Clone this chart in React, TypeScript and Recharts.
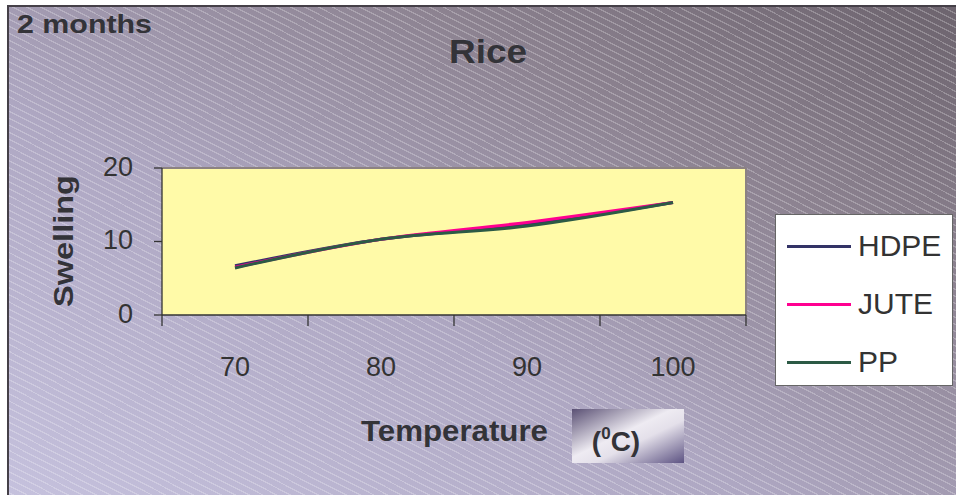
import { LineChart, Line, XAxis, YAxis, CartesianGrid, Legend } from 'recharts';

const temps = [70, 80, 90, 100];
const hdpe = [6.7, 10.3, 12.3, 15.3];
const jute = [6.5, 10.3, 12.6, 15.3];
const pp = [6.4, 10.3, 12.1, 15.3];
const xBounds = [65, 75, 85, 95, 105];
const yTicks = [0, 10, 20];

const series = [
  { key: 'HDPE', values: hdpe, color: '#333366' },
  { key: 'JUTE', values: jute, color: '#ff0090' },
  { key: 'PP', values: pp, color: '#2c5a45' },
];

const data = temps.map((t, i) => ({
  temp: t,
  HDPE: hdpe[i],
  JUTE: jute[i],
  PP: pp[i],
}));

const font = '"Liberation Sans", Arial, sans-serif';
const ink = '#333333';

function XTick(props: any) {
  const { x, y, payload } = props;
  if (temps.includes(payload.value)) {
    return (
      <text x={x} y={y + 61} textAnchor="middle" fill={ink} fontSize={27} fontFamily={font}>
        {payload.value}
      </text>
    );
  }
  return <line x1={x} y1={y} x2={x} y2={y + 11} stroke={ink} strokeWidth={1.3} />;
}

function LegendBox(props: any) {
  const items = props.payload || [];
  return (
    <div
      style={{
        background: '#fff',
        border: '1px solid #666',
        width: 178,
        height: 172,
        boxSizing: 'border-box',
        paddingTop: 2,
        fontFamily: font,
      }}
    >
      {items.map((p: any) => (
        <div key={p.value} style={{ display: 'flex', alignItems: 'center', height: 58 }}>
          <div style={{ width: 64, height: 3, background: p.color, marginLeft: 11, marginRight: 7 }} />
          <span style={{ fontSize: 30, color: ink, lineHeight: 1 }}>{p.value}</span>
        </div>
      ))}
    </div>
  );
}

export default function App() {
  return (
    <div style={{ position: 'fixed', inset: 0, overflow: 'hidden', background: '#fff' }}>
      <div
        style={{
          position: 'absolute',
          left: 7,
          top: 5,
          width: 960,
          height: 500,
          borderLeft: '2px solid #454048',
          borderTop: '2px solid #454048',
          background:
            'repeating-linear-gradient(207deg, rgba(255,255,255,0) 0px, rgba(255,255,255,0) 5px, rgba(255,255,255,0.24) 5px, rgba(255,255,255,0.24) 6.3px), linear-gradient(to top right, #c6c2de 0%, #aea7c2 40%, #8c8290 72%, #6c636d 100%)',
        }}
      />
      <div style={{ position: 'absolute', left: 0, top: 0 }}>
        <LineChart
          width={956}
          height={495}
          data={data}
          margin={{ top: 168, right: 210, bottom: 120, left: 62 }}
        >
          <CartesianGrid
            fill="#fffaa8"
            stroke="#8c8282"
            strokeWidth={2}
            horizontalCoordinatesGenerator={({ offset }: any) => [offset.top]}
            verticalCoordinatesGenerator={({ offset }: any) => [offset.left + offset.width]}
          />
          <XAxis
            dataKey="temp"
            type="number"
            domain={[65, 105]}
            ticks={xBounds.concat(temps)}
            interval={0}
            height={60}
            tickLine={false}
            tickSize={0}
            tickMargin={0}
            axisLine={{ stroke: ink, strokeWidth: 1.3 }}
            tick={<XTick />}
          />
          <YAxis
            type="number"
            domain={[0, 20]}
            ticks={yTicks}
            width={100}
            tickSize={8}
            tickMargin={21}
            axisLine={{ stroke: ink, strokeWidth: 1.3 }}
            tickLine={{ stroke: ink, strokeWidth: 1.3 }}
            tick={{ fill: ink, fontSize: 27, fontFamily: font, dy: -2 }}
          />
          <Legend
            layout="horizontal"
            verticalAlign="middle"
            align="center"
            wrapperStyle={{ left: 775, top: 214, width: 178 }}
            content={<LegendBox />}
          />
          {series.map((s) => (
            <Line
              key={s.key}
              name={s.key}
              dataKey={s.key}
              type="monotone"
              stroke={s.color}
              strokeWidth={3}
              dot={false}
              activeDot={false}
              isAnimationActive={false}
            />
          ))}
        </LineChart>
      </div>
      <svg
        width={956}
        height={495}
        style={{ position: 'absolute', left: 0, top: 0, pointerEvents: 'none' }}
        fontFamily={font}
        fontWeight="bold"
        fill="#333338"
      >
        <defs>
          <linearGradient id="unitBox" x1="0" y1="0" x2="1" y2="1">
            <stop offset="0" stopColor="#5a5074" />
            <stop offset="0.45" stopColor="#eeebf2" />
            <stop offset="0.6" stopColor="#e4e0ea" />
            <stop offset="1" stopColor="#5c5282" />
          </linearGradient>
        </defs>
        <text x={17} y={33} fontSize={25} textLength={135} lengthAdjust="spacingAndGlyphs">
          2 months
        </text>
        <text x={449} y={63} fontSize={33} textLength={78} lengthAdjust="spacingAndGlyphs">
          Rice
        </text>
        <text
          transform="translate(73,307) rotate(-90)"
          fontSize={28}
          textLength={132}
          lengthAdjust="spacingAndGlyphs"
        >
          Swelling
        </text>
        <text x={361} y={441} fontSize={30} textLength={187} lengthAdjust="spacingAndGlyphs">
          Temperature
        </text>
        <rect x={572} y={409} width={112} height={54} fill="url(#unitBox)" />
        <text x={616} y={451} fontSize={28} textAnchor="middle">
          (<tspan fontSize={17} dy={-12}>0</tspan>
          <tspan dy={12}>C)</tspan>
        </text>
      </svg>
    </div>
  );
}
